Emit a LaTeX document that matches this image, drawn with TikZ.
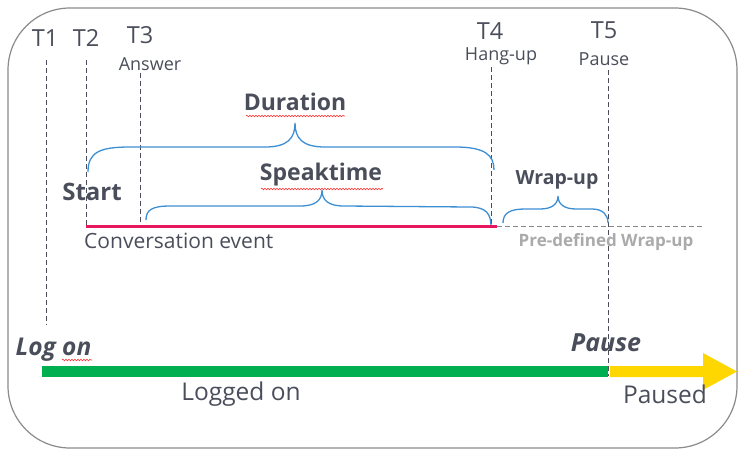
\documentclass[tikz,border=0pt]{standalone}
\usepackage{fontspec}
\setmainfont{Open Sans}
\usetikzlibrary{decorations.pathmorphing}
\definecolor{txt}{HTML}{4A4E5A}
\definecolor{brc}{HTML}{3D8FD3}
\definecolor{evt}{HTML}{E8175D}
\definecolor{grn}{HTML}{00B050}
\definecolor{ylw}{HTML}{FFD700}
\definecolor{frm}{HTML}{8A8A8A}
\definecolor{lgray}{HTML}{AAAAAA}
\begin{document}
\begin{tikzpicture}[x=1pt,y=-1pt,
  lbl/.style={text=txt,inner sep=0pt,anchor=center},
  tlbl/.style={lbl,font=\fontsize{23.5}{26}\selectfont},
  slbl/.style={lbl,font=\fontsize{18}{20}\selectfont},
  blbl/.style={lbl,font=\fontsize{23}{26}\selectfont\bfseries},
  vdash/.style={draw=txt,dashed,line width=0.8pt,dash pattern=on 5pt off 3pt},
  bracel/.style={draw=brc,line width=1.3pt},
  spell/.style={draw=red!80,line width=0.6pt,decorate,decoration={snake,amplitude=0.8pt,segment length=3pt}}]
\useasboundingbox (0,0) rectangle (739,450);
% frame
\draw[frm,line width=1.2pt,rounded corners=62pt] (8,8) rectangle (737,448);
% time labels
\node[tlbl] (t1) at (45,38) {T1};
\node[tlbl] (t2) at (86,38) {T2};
\node[tlbl] (t3) at (140,35) {T3};
\node[slbl] (ans) at (150,64) {Answer};
\node[tlbl] (t4) at (490,31) {T4};
\node[slbl] (hang) at (501,56) {Hang-up};
\node[tlbl] (t5) at (604,30) {T5};
\node[slbl] (pau) at (604,59) {Pause};
% dashed verticals
\coordinate (d1a) at (46,60); \coordinate (d1b) at (46,325);
\coordinate (d2a) at (86,60); \coordinate (d2b) at (86,226);
\coordinate (d3a) at (140,73); \coordinate (d3b) at (140,226);
\coordinate (d4a) at (491,67); \coordinate (d4b) at (491,226);
\coordinate (d5a) at (608,70); \coordinate (d5b) at (608,376);
\draw[vdash] (d1a) -- (d1b);
\draw[vdash] (d2a) -- (d2b);
\draw[vdash] (d3a) -- (d3b);
\draw[vdash] (d4a) -- (d4b);
\draw[vdash] (d5a) -- (d5b);
% braces
\draw[bracel] (88,172) .. controls (88,152) and (100,147) .. (130,147) -- (265,147)
  .. controls (288,147) and (295,138) .. (295,123)
  .. controls (295,138) and (302,147) .. (325,147) -- (455,147)
  .. controls (485,147) and (494,155) .. (494,170);
\draw[bracel] (146,220) .. controls (146,210) and (152,206) .. (170,206) -- (300,206)
  .. controls (316,206) and (322,200) .. (322,190)
  .. controls (322,200) and (328,206) .. (344,206) -- (470,207)
  .. controls (486,207) and (491,214) .. (491,226);
\draw[bracel] (503,223) .. controls (503,213) and (510,209) .. (525,209) -- (540,209)
  .. controls (552,209) and (558,204) .. (558,196)
  .. controls (558,204) and (564,209) .. (576,209) -- (592,209)
  .. controls (603,209) and (608,215) .. (608,223);
% labels of braces
\node[blbl] (dur) at (295,102) {Duration};
\node[blbl] (spk) at (321,175) {Speaktime};
\node[lbl,font=\fontsize{19.5}{22}\selectfont\bfseries] (wrp) at (557,180) {Wrap-up};
\node[lbl,font=\fontsize{24}{27}\selectfont\bfseries] (start) at (92,192) {Start};
\draw[spell] (246,116) -- (345,116);
\draw[spell] (261,189) -- (383,189);
% conversation event
\coordinate (ev0) at (86,226); \coordinate (ev1) at (497,226); \coordinate (ev2) at (702,226);
\draw[evt,line width=3pt] (ev0) -- (ev1);
\draw[lgray!80!black,line width=0.8pt,dash pattern=on 5pt off 3pt] (ev1) -- (ev2);
\node[lbl,anchor=west,font=\fontsize{21}{24}\selectfont] (conv) at (84,241) {Conversation event};
\node[lbl,text=lgray,font=\fontsize{17}{20}\selectfont\bfseries] (pdw) at (606,242) {Pre-defined Wrap-up};
% status bar
\coordinate (g0) at (42,371.5); \coordinate (g1) at (608,371.5);
\fill[grn] (42,366) rectangle (608,377);
\fill[ylw] (610,366) -- (703,366) -- (703,353) -- (737,371.5) -- (703,390) -- (703,377) -- (610,377) -- cycle;
\node[lbl,font=\fontsize{24.5}{27}\selectfont\bfseries\itshape] (logon) at (53.5,350) {Log on};
\node[lbl,font=\fontsize{25}{28}\selectfont\bfseries\itshape] (pause) at (606,343) {Pause};
\draw[spell] (62,360) -- (92,360);
\node[lbl,font=\fontsize{24.5}{28}\selectfont] (logged) at (241,394) {Logged on};
\node[lbl,font=\fontsize{24.5}{28}\selectfont] (paused) at (665,394) {Paused};
\end{tikzpicture}
\end{document}
